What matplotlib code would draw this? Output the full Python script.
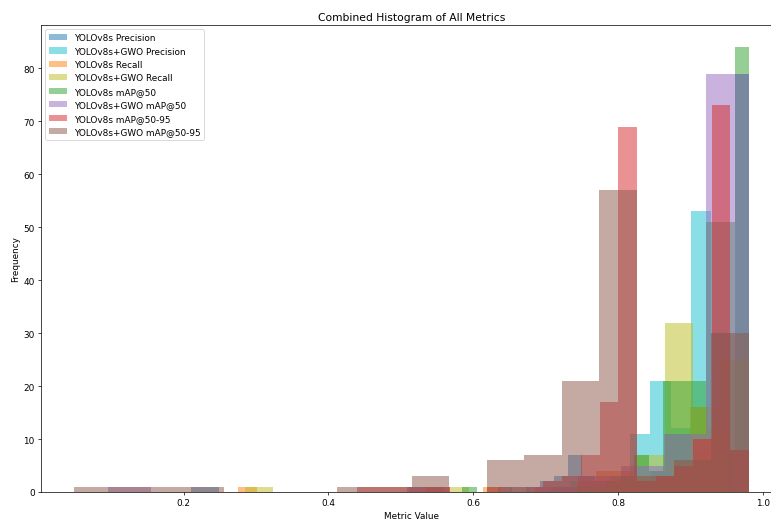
import numpy as np
import matplotlib
matplotlib.use("Agg")
import matplotlib.pyplot as plt

labels = [
    "YOLOv8s Precision",
    "YOLOv8s+GWO Precision",
    "YOLOv8s Recall",
    "YOLOv8s+GWO Recall",
    "YOLOv8s mAP@50",
    "YOLOv8s+GWO mAP@50",
    "YOLOv8s mAP@50-95",
    "YOLOv8s+GWO mAP@50-95",
]
colors = ["#1f77b4", "#17becf", "#ff7f0e", "#bcbd22",
          "#2ca02c", "#9467bd", "#d62728", "#8c564b"]

# bin range (lo, hi) for each series, counts
ranges = [
    (0.210, 0.981),
    (0.400, 0.956),
    (0.275, 0.951),
    (0.285, 0.981),
    (0.585, 0.981),
    (0.096, 0.981),
    (0.310, 0.981),
    (0.049, 0.981),
]

prec_v8 = [1, 1, 0, 0, 0, 0, 0, 0, 0, 0, 0, 0, 0, 0, 0, 0, 0, 1, 0, 0,
           0, 0, 1, 0, 1, 2, 3, 7, 3, 2, 1, 2, 2, 4, 11, 11, 8, 6, 8, 79]
prec_gwo = [0, 0, 0, 0, 1, 0, 0, 0, 0, 1, 0, 1, 2, 2, 3, 11, 21, 12, 53, 30]
rec_v8 = [1, 0, 0, 0, 0, 0, 0, 0, 0, 0, 1, 0, 0, 1, 0, 0, 0, 0,
          2, 4, 4, 3, 3, 6, 16, 12]
rec_gwo = [1, 0, 0, 0, 0, 0, 0, 1, 0, 0, 0, 0, 1, 2, 7, 32, 16, 25]
map50_v8 = [1, 0, 0, 0, 0, 0, 0, 0, 1, 1, 2, 3, 7, 4, 21, 21, 21, 51, 51, 84]
map50_gwo = [1, 0, 0, 0, 0, 0, 0, 1, 0, 0, 1, 3, 5, 11, 79]
map5095_v8 = [0, 0, 0, 0, 0, 1, 1, 1, 1, 1, 0, 0, 1, 1, 1, 2, 3, 7, 17, 69,
              2, 3, 5, 10, 73, 8]
map5095_gwo = [1, 1, 1, 1, 0, 0, 0, 1, 1, 3, 0, 6, 7, 21, 57, 3, 6, 30]

series = [prec_v8, prec_gwo, rec_v8, rec_gwo,
          map50_v8, map50_gwo, map5095_v8, map5095_gwo]

fig = plt.figure(figsize=(12, 8.114), dpi=64.333)
ax = fig.add_axes([41 / 772, 29 / 522, (783 - 41) / 772, (493 - 26) / 522])

for counts, (lo, hi), lab, col in zip(series, ranges, labels, colors):
    edges = np.linspace(lo, hi, len(counts) + 1)
    centers = (edges[:-1] + edges[1:]) / 2
    ax.hist(centers, bins=edges, weights=counts, alpha=0.5,
            color=col, label=lab)

ax.set_xlim(0.003, 1.028)
ax.set_title("Combined Histogram of All Metrics")
ax.set_xlabel("Metric Value")
ax.set_ylabel("Frequency")
ax.legend(loc="upper left")

fig.savefig("out.png", dpi=64.333)
